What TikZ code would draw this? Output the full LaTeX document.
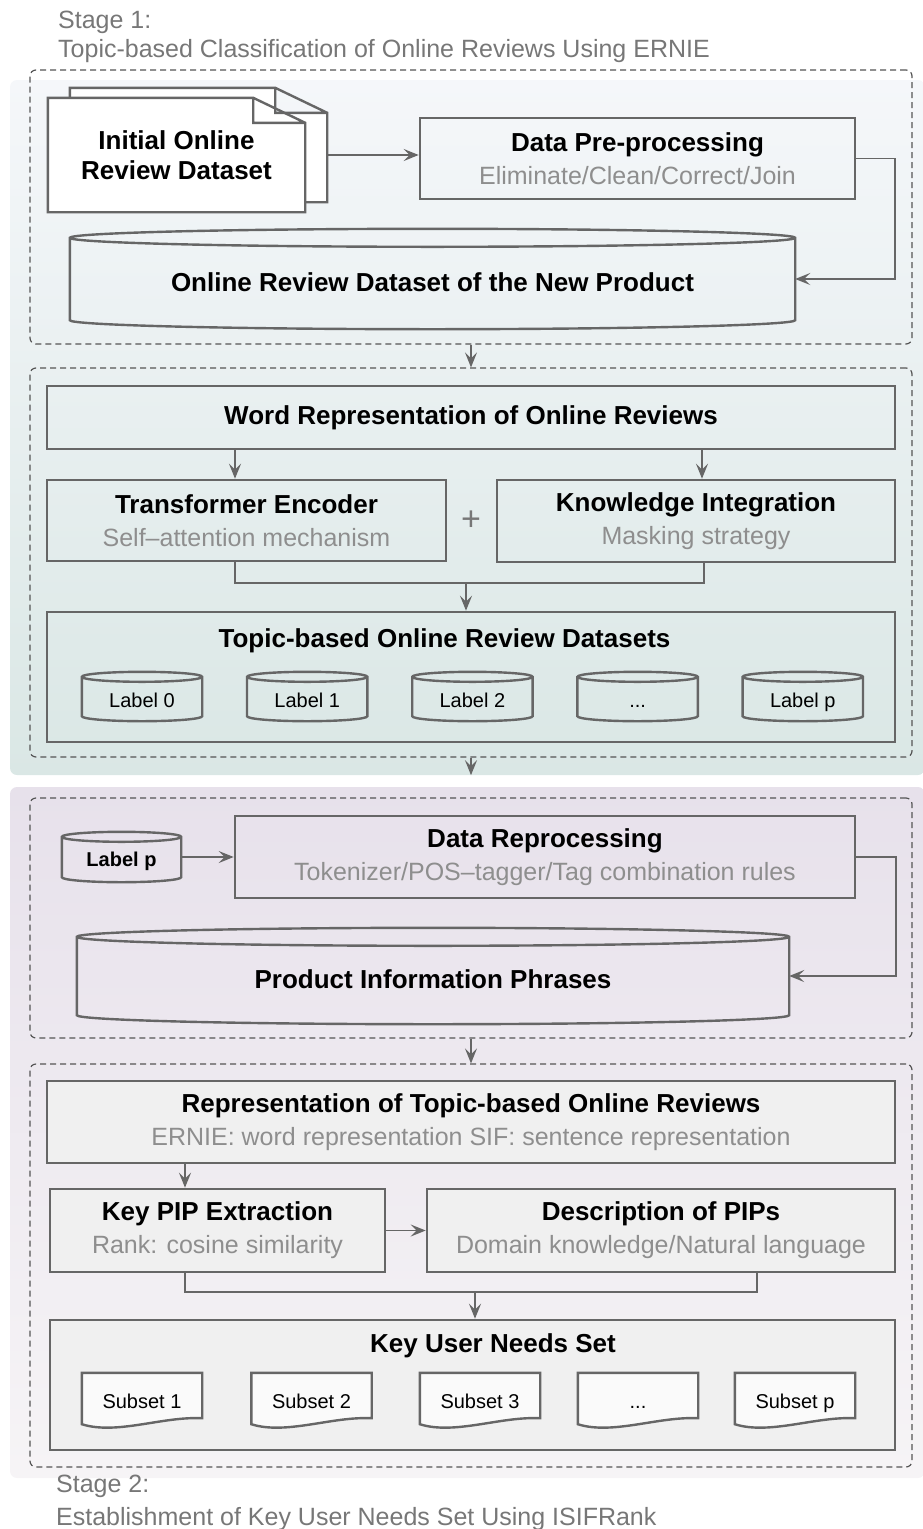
\documentclass[tikz,border=0pt]{standalone}
\usepackage{fontspec}
\setmainfont{Liberation Sans}
\usetikzlibrary{positioning,fit,calc,arrows.meta,backgrounds}
\pgfdeclarelayer{subbackground}
\pgfdeclarelayer{background}
\pgfsetlayers{subbackground,background,main}
\definecolor{linegray}{HTML}{666666}
\definecolor{subgray}{HTML}{8E8E8E}
\definecolor{titlegray}{HTML}{777777}
\definecolor{dashgray}{HTML}{555555}
\definecolor{pastelblue}{HTML}{F5F7FA}
\definecolor{pastelteal}{HTML}{DAE7E5}
\definecolor{pastellilac}{HTML}{E7E1EB}
\definecolor{palelilac}{HTML}{F6F4F6}
\definecolor{palegray}{HTML}{F0F0F0}
\newcommand{\headfont}{\fontsize{26}{33}\selectfont\bfseries}
\newcommand{\labelfont}{\fontsize{20}{24}\selectfont}
\newcommand{\subline}[1]{{\mdseries\color{subgray}\fontsize{25}{33}\selectfont #1}}
\newcommand{\moredots}{...}
\tikzstyle{stage_bg} = [rectangle, rounded corners=7pt, inner sep=0pt, draw=none]
\tikzstyle{second_group} = [rectangle, dash pattern=on 6pt off 4pt, rounded corners=6pt, inner sep=0pt, draw=dashgray, line width=1.2pt]
\tikzstyle{element} = [rectangle, draw=linegray, line width=2.6pt, align=center, text=black, font=\headfont]
\tikzstyle{shape_text} = [rectangle, inner sep=0pt, align=center, text=black]
\tikzstyle{db_text} = [shape_text, font=\headfont, text height=31pt, text depth=6pt]
\tikzstyle{label_text} = [shape_text, font=\labelfont, text height=25pt, text depth=4pt]
\tikzstyle{subset_text} = [shape_text, font=\labelfont, text height=20pt, text depth=4pt]
\tikzstyle{outline} = [draw=linegray, line width=2.4pt]
\tikzstyle{plain_line} = [draw=linegray, line width=1.8pt]
\tikzstyle{arrow} = [draw=linegray, line width=1.8pt, -{Stealth[length=15pt, width=12pt, inset=6pt]}]
\tikzstyle{stage_title} = [anchor=base west, inner sep=0pt, text=titlegray, font=\fontsize{25}{30}\selectfont]
% cylinder round a node: #1 node, #2 half height of the ends, #3 fill
\newcommand{\dbshape}[3]{%
  \draw[outline, fill=#3] let \p1=(#1.north west), \p2=(#1.south east), \n1={(\x2-\x1)/2} in
    (\x1,\y1-#2pt) -- (\x1,\y2+#2pt) arc[start angle=180, end angle=360, x radius=\n1, y radius=#2pt]
    -- (\x2,\y1-#2pt) arc[start angle=0, end angle=180, x radius=\n1, y radius=#2pt] -- cycle
    (\x1,\y1-#2pt) arc[start angle=180, end angle=360, x radius=\n1, y radius=#2pt];}
% dog-eared sheet round a node, moved by (#2,#3)
\newcommand{\docshape}[3]{%
  \draw[outline, fill=white] let \p1=($(#1.north west)+(#2,#3)$), \p2=($(#1.south east)+(#2,#3)$) in
    (\x1,\y1) -- (\x2-52pt,\y1) -- (\x2,\y1-25pt) -- (\x2,\y2) -- (\x1,\y2) -- cycle
    (\x2-52pt,\y1) -- (\x2-52pt,\y1-25pt) -- (\x2,\y1-25pt);}
% sheet with a wavy bottom round a node
\newcommand{\subsetshape}[1]{%
  \draw[outline, fill=white!70!palegray] let \p1=(#1.north west), \p2=(#1.south east) in
    (\x1,\y1) -- (\x2,\y1) -- (\x2,\y2+9pt) .. controls (\x2-40pt,\y2+11pt) and (\x1+35pt,\y2-8pt) .. (\x1,\y2+3pt) -- cycle;}

\begin{document}
\begin{tikzpicture}[x=1pt, y=1pt]
    \useasboundingbox (0,0) rectangle (922,-1529);
    % Stages and groups ------------------------------------------------------------------------
    \begin{pgfonlayer}{subbackground}
        \node[stage_bg, fit={(10,-80) (925,-775)}, top color=pastelblue, bottom color=pastelteal](stage_one_bg){};
        \node[stage_bg, fit={(10,-787) (925,-1478)}, top color=pastellilac, bottom color=palelilac](stage_two_bg){};
    \end{pgfonlayer}
    \begin{pgfonlayer}{background}
        \node[second_group, fit={(30,-70) (912,-344)}](group_one){};
        \node[second_group, fit={(30,-368) (912,-757)}](group_two){};
        \node[second_group, fit={(30,-798) (912,-1038)}](group_three){};
        \node[second_group, fit={(30,-1064) (912,-1467)}](group_four){};
    \end{pgfonlayer}
    \node[stage_title](stage_one_label) at (58,-28){Stage 1:};
    \node[stage_title](stage_one_name) at (58,-57){Topic-based Classification of Online Reviews Using ERNIE};
    \node[stage_title](stage_two_label) at (56,-1492){Stage 2:};
    \node[stage_title](stage_two_name) at (56,-1525){Establishment of Key User Needs Set Using ISIFRank};
    % Group one --------------------------------------------------------------------------------
    \node[shape_text, font=\fontsize{26}{30}\selectfont\bfseries, minimum width=257pt, minimum height=114pt](init_data) at (176.5,-155){Initial Online\\Review Dataset};
    \node[element, minimum width=435pt, minimum height=81pt](data_prep) at (637.5,-158.5){Data Pre-processing\\\subline{Eliminate/Clean/Correct/Join}};
    \node[db_text, minimum width=725pt, minimum height=100pt](new_product) at (432.5,-279){Online Review Dataset of the New Product};
    \begin{pgfonlayer}{background}
        \docshape{init_data}{22}{10}
        \docshape{init_data}{0}{0}
        \dbshape{new_product}{9}{none}
    \end{pgfonlayer}
    \draw[arrow] ([xshift=22pt]init_data.east) -- (init_data.east -| data_prep.west);
    \draw[arrow] (data_prep.east) -- ++(39pt,0) |- (new_product.east);
    % Group two --------------------------------------------------------------------------------
    \node[element, minimum width=848pt, minimum height=63pt](word_rep) at (471,-417.5){Word Representation of Online Reviews};
    \node[element, minimum width=399pt, minimum height=81pt](transformer) at (246.5,-520.5){Transformer Encoder\\\subline{Self--attention mechanism}};
    \node[element, minimum width=398pt, minimum height=82pt](knowledge) at (696,-521){Knowledge Integration\\\subline{Masking strategy}};
    \node[text=titlegray, font=\fontsize{34}{36}\selectfont](plus) at (471,-521){+};
    \node[element, minimum width=848pt, minimum height=130pt](topic_sets) at (471,-677){};
    \node[anchor=base, inner sep=0pt, font=\headfont](topic_title) at (444.5,-647){Topic-based Online Review Datasets};
    \foreach \name/\txt [count=\i from 0] in {label_0/Label 0, label_1/Label 1, label_2/Label 2, label_dots/\moredots, label_p/Label p}{
        \node[label_text, minimum width=120pt, minimum height=49pt](\name) at ({142+165.2*\i},-696.5){\txt};
    }
    \begin{pgfonlayer}{background}
        \foreach \name in {label_0,label_1,label_2,label_dots,label_p}{
            \dbshape{\name}{5}{none}
        }
    \end{pgfonlayer}
    \coordinate (merge_two) at (466,-583);
    \draw[arrow] ([xshift=-11.5pt]transformer.north |- word_rep.south) -- ([xshift=-11.5pt]transformer.north);
    \draw[arrow] ([xshift=6pt]knowledge.north |- word_rep.south) -- ([xshift=6pt]knowledge.north);
    \draw[plain_line] ([xshift=-11.5pt]transformer.south) |- (merge_two) -| ([xshift=8pt]knowledge.south);
    \draw[arrow] (merge_two) -- (merge_two |- topic_sets.north);
    % Group three ------------------------------------------------------------------------------
    \node[label_text, font=\fontsize{20}{24}\selectfont\bfseries, text height=22pt, minimum width=119pt, minimum height=50pt](label_p_in) at (121.5,-857){Label p};
    \node[element, minimum width=620pt, minimum height=82pt](data_reproc) at (545,-857){Data Reprocessing\\\subline{Tokenizer/POS--tagger/Tag combination rules}};
    \node[db_text, minimum width=712pt, minimum height=96pt](phrases) at (433,-976){Product Information Phrases};
    \begin{pgfonlayer}{background}
        \dbshape{label_p_in}{5}{none}
        \dbshape{phrases}{9}{none}
    \end{pgfonlayer}
    \draw[arrow] (label_p_in.east) -- (data_reproc.west);
    \draw[arrow] (data_reproc.east) -- ++(40pt,0) |- (phrases.east);
    % Group four -------------------------------------------------------------------------------
    \node[element, fill=palegray, minimum width=848pt, minimum height=82pt](topic_rep) at (471,-1122){Representation of Topic-based Online Reviews\\\subline{ERNIE: word representation SIF: sentence representation}};
    \node[element, fill=palegray, minimum width=335pt, minimum height=83pt](key_pip) at (217.5,-1230.5){Key PIP Extraction\\\subline{Rank: cosine similarity}};
    \node[element, fill=palegray, minimum width=468pt, minimum height=83pt](pip_desc) at (661,-1230.5){Description of PIPs\\\subline{Domain knowledge/Natural language}};
    \begin{pgfonlayer}{background}
        \node[element, fill=palegray, minimum width=845pt, minimum height=130pt](key_needs) at (472.5,-1385){};
    \end{pgfonlayer}
    \node[anchor=base, inner sep=0pt, font=\headfont](key_needs_title) at (493,-1352){Key User Needs Set};
    \foreach \name/\xpos/\txt in {subset_1/142/Subset 1, subset_2/311.5/Subset 2, subset_3/480/Subset 3, subset_dots/638/\moredots, subset_p/795/Subset p}{
        \node[subset_text, minimum width=120pt, minimum height=54pt](\name) at (\xpos,-1400){\txt};
    }
    \begin{pgfonlayer}{background}
        \foreach \name in {subset_1,subset_2,subset_3,subset_dots,subset_p}{
            \subsetshape{\name}
        }
    \end{pgfonlayer}
    \coordinate (merge_four) at (475,-1292);
    \draw[arrow] ([xshift=-32.5pt]key_pip.north |- topic_rep.south) -- ([xshift=-32.5pt]key_pip.north);
    \draw[arrow] (key_pip.east) -- (pip_desc.west);
    \draw[plain_line] ([xshift=-32.5pt]key_pip.south) |- (merge_four) -| ([xshift=96pt]pip_desc.south);
    \draw[arrow] (merge_four) -- (merge_four |- key_needs.north);
    % Between groups ---------------------------------------------------------------------------
    \draw[arrow] (group_one.south) -- (group_two.north);
    \draw[arrow] (group_two.south) -- (group_two.south |- stage_one_bg.south);
    \draw[arrow] (group_three.south) -- (group_four.north);
\end{tikzpicture}
\end{document}
